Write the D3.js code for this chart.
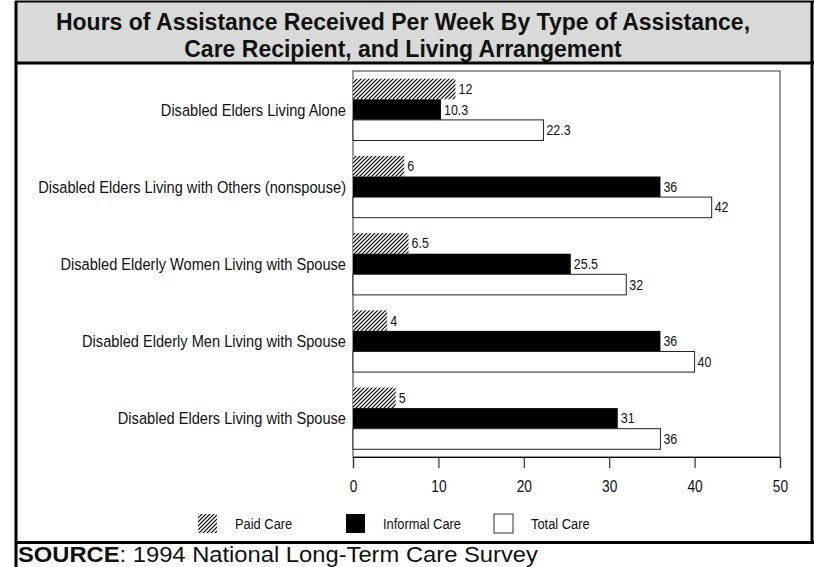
<!DOCTYPE html>
<html><head><meta charset="utf-8">
<script src="https://cdn.jsdelivr.net/npm/d3@7"></script>
<style>body{margin:0;background:#fff}</style>
</head><body>
<svg id="c" width="814" height="567"></svg>
<script>
const categories = [
  "Disabled Elders Living Alone",
  "Disabled Elders Living with Others (nonspouse)",
  "Disabled Elderly Women Living with Spouse",
  "Disabled Elderly Men Living with Spouse",
  "Disabled Elders Living with Spouse"
];
const seriesNames = ["Paid Care", "Informal Care", "Total Care"];
const paidCare = [12, 6, 6.5, 4, 5];
const informalCare = [10.3, 36, 25.5, 36, 31];
const totalCare = [22.3, 42, 32, 40, 36];
const valueLabels = [
  ["12", "6", "6.5", "4", "5"],
  ["10.3", "36", "25.5", "36", "31"],
  ["22.3", "42", "32", "40", "36"]
];
const xTicks = [0, 10, 20, 30, 40, 50];
const titleLines = ["Hours of Assistance Received Per Week By Type of Assistance,", "Care Recipient, and Living Arrangement"];

const series = [paidCare, informalCare, totalCare];
const svg = d3.select("#c");
const sans = "'Liberation Sans',Arial,sans-serif";
const SX = 0.86; // horizontal compression to mimic a narrow face

function narrowText(sel, x, y, size, anchor) {
  return sel.append("text")
    .attr("transform", `translate(${x},${y}) scale(${SX},1)`)
    .attr("text-anchor", anchor || "start")
    .attr("font-family", sans).attr("font-size", size).attr("fill", "#111");
}

// hatch pattern
const defs = svg.append("defs");
const pat = defs.append("pattern").attr("id","hatch").attr("patternUnits","userSpaceOnUse")
  .attr("width",4).attr("height",4);
pat.append("rect").attr("width",4).attr("height",4).attr("fill","#fff");
pat.append("path").attr("d","M-1,1 l2,-2 M0,4 l4,-4 M3,5 l2,-2").attr("stroke","#000").attr("stroke-width",1.2);

// title box
svg.append("rect").attr("x",16).attr("y",1).attr("width",796).attr("height",62).attr("fill","#d9d9d9");
svg.append("text").attr("text-anchor","middle")
  .attr("font-family",sans).attr("font-weight","bold").attr("font-size",23).attr("fill","#111")
  .selectAll("tspan").data(titleLines).join("tspan").attr("x",403).attr("y",(d,i)=>30+i*26.5).text(d=>d);

// frame lines
const frame = svg.append("g").attr("stroke","#000").attr("stroke-width",3).attr("fill","none");
frame.append("line").attr("x1",16).attr("x2",16).attr("y1",1).attr("y2",567);
frame.append("line").attr("x1",812).attr("x2",812).attr("y1",1).attr("y2",544);
frame.append("line").attr("x1",15).attr("x2",814).attr("y1",1.5).attr("y2",1.5).attr("stroke-width",2);
frame.append("line").attr("x1",15).attr("x2",814).attr("y1",63).attr("y2",63);
frame.append("line").attr("x1",15).attr("x2",814).attr("y1",542.5).attr("y2",542.5);

// plot
const x = d3.scaleLinear().domain([0,50]).range([353,780]);
const y0 = d3.scaleBand().domain(categories).range([71,457]).paddingInner(0.2).paddingOuter(0.1);
const y1 = d3.scaleBand().domain(seriesNames).range([0,y0.bandwidth()]);

svg.append("rect").attr("x",353).attr("y",71).attr("width",427).attr("height",386)
  .attr("fill","none").attr("stroke","#555").attr("stroke-width",1.2);

const fills = ["url(#hatch)","#000","#fff"];
const g = svg.append("g");
series.forEach((vals,si)=>{
  g.selectAll(null).data(vals).join("rect")
    .attr("x",x(0)).attr("y",(d,i)=>y0(categories[i])+y1(seriesNames[si]))
    .attr("width",d=>x(d)-x(0)).attr("height",y1.bandwidth())
    .attr("fill",fills[si]).attr("stroke",si===2?"#222":"none").attr("stroke-width",1);
  vals.forEach((d,i)=>{
    narrowText(g, x(d)+3, y0(categories[i])+y1(seriesNames[si])+y1.bandwidth()/2+5, 14.5)
      .text(valueLabels[si][i]);
  });
});

// category labels
const cg = svg.append("g");
categories.forEach(c=>{
  narrowText(cg, 346, y0(c)+y0.bandwidth()/2+6, 17, "end").text(c);
});

// x axis
const ax = svg.append("g").attr("transform","translate(0,457)")
  .call(d3.axisBottom(x).tickValues(xTicks).tickSize(11).tickFormat(""));
ax.select(".domain").attr("stroke","#000").attr("stroke-width",1.2);
ax.selectAll(".tick line").attr("stroke","#333").attr("stroke-width",1.2);
ax.selectAll(".tick").each(function(d){
  narrowText(d3.select(this), 0, 35, 16, "middle").text(d);
});

// legend
const legX = [198, 346, 494];
const leg = svg.append("g");
seriesNames.forEach((n,i)=>{
  leg.append("rect").attr("x",legX[i]).attr("y",514).attr("width",19).attr("height",19)
    .attr("fill",fills[i]).attr("stroke",i===2?"#333":"none");
  narrowText(leg, legX[i]+37, 529, 15).text(n);
});

// source
const src = svg.append("text").attr("transform","translate(18,562) scale(1.08,1)")
  .attr("font-family",sans).attr("font-size",22).attr("fill","#111");
src.append("tspan").attr("font-weight","bold").text("SOURCE");
src.append("tspan").text(":  1994 National Long-Term Care Survey");
</script>
</body></html>
